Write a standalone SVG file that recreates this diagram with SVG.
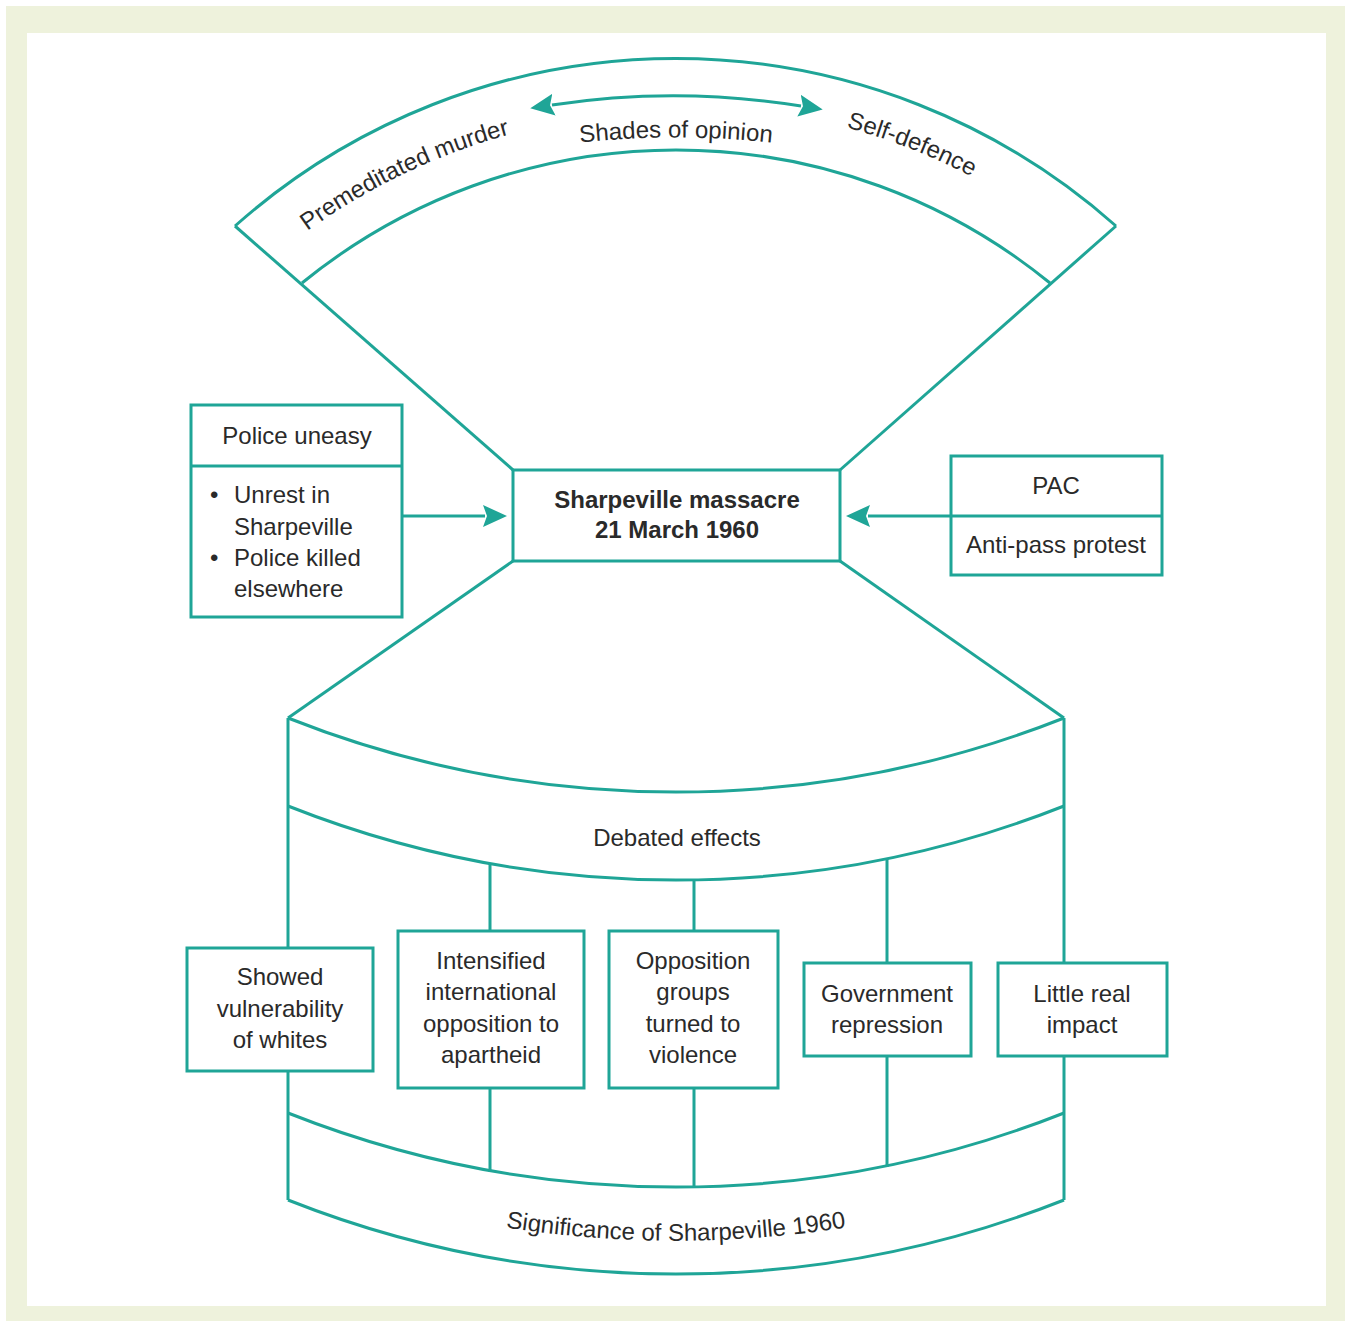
<svg xmlns="http://www.w3.org/2000/svg" width="1349" height="1321" viewBox="0 0 1349 1321">
  <style>
    .ln { fill: none; stroke: #1fa597; stroke-width: 3; stroke-linejoin: miter; }
    .box { fill: #ffffff; stroke: #1fa597; stroke-width: 3; }
    .t { font-family: "Liberation Sans", Arial, sans-serif; font-size: 24px; fill: #2a2a2a; }
    .c { text-anchor: middle; }
    .b { font-weight: bold; }
  </style>
  <defs>
    <marker id="head" viewBox="0 0 12 12" refX="1" refY="6" markerWidth="24" markerHeight="24" markerUnits="userSpaceOnUse" orient="auto-start-reverse">
      <path d="M0,0.5 L12,6 L0,11.5 L2,6 Z" fill="#1fa597"/>
    </marker>
    <!-- baselines for curved labels -->
    <path id="leftLabelArc" d="M193.4,337 A630,630 0 0 1 1158.6,337"/>
    <path id="topLabelArc" d="M187.3,331.9 A638,638 0 0 1 1164.7,331.9"/>
    <path id="shadesArc" d="M476,160 A900,900 0 0 1 876,160"/>
    <path id="sigArc" d="M376,1199 A1100,1100 0 0 0 976,1199"/>
  </defs>

  <!-- page frame -->
  <rect x="0" y="0" width="1349" height="1321" fill="#ffffff"/>
  <rect x="6" y="6" width="1339" height="1315" fill="#eef2dc"/>
  <rect x="27" y="33" width="1299" height="1273" fill="#ffffff"/>

  <!-- upper fan: shades of opinion -->
  <g id="opinion-fan">
    <path class="ln" d="M235,226 A663,663 0 0 1 1116,226"/>
    <path class="ln" d="M302,283 A592,592 0 0 1 1050,283"/>
    <text class="t"><textPath href="#leftLabelArc" startOffset="156">Premeditated murder</textPath></text>
    <text class="t"><textPath href="#topLabelArc" startOffset="729">Self-defence</textPath></text>
    <text class="t c"><textPath href="#shadesArc" startOffset="50%">Shades of opinion</textPath></text>
  </g>

  <!-- lower funnel: debated effects and significance -->
  <g id="significance-funnel">
    <path class="ln" d="M288,718 A1054,1054 0 0 0 1064,718"/>
    <path class="ln" d="M288,806 A1054,1054 0 0 0 1064,806"/>
    <path class="ln" d="M288,1113 A1054,1054 0 0 0 1064,1113"/>
    <path class="ln" d="M288,1200 A1054,1054 0 0 0 1064,1200"/>
    <text class="t c" x="677" y="846">Debated effects</text>
    <text class="t c"><textPath href="#sigArc" startOffset="50%">Significance of Sharpeville 1960</textPath></text>
  </g>

  <!-- connectors -->
  <g id="connectors">
    <!-- fan sides into the central event -->
    <path class="ln" d="M235,226 L513,470"/>
    <path class="ln" d="M1116,226 L840,470"/>
    <path class="ln" d="M513,561 L288,718"/>
    <path class="ln" d="M840,561 L1064,718"/>
    <!-- opinion range arrow -->
    <path class="ln" d="M552,105 Q676,86 801,106" marker-start="url(#head)" marker-end="url(#head)"/>
    <!-- causes -->
    <path class="ln" d="M402,516 L485,516" marker-end="url(#head)"/>
    <path class="ln" d="M951,516 L868,516" marker-end="url(#head)"/>
    <!-- funnel uprights -->
    <path class="ln" d="M288,718 L288,948 M288,1071 L288,1200"/>
    <path class="ln" d="M1064,718 L1064,963 M1064,1056 L1064,1200"/>
    <!-- effect links -->
    <path class="ln" d="M490,863 L490,931 M490,1088 L490,1172"/>
    <path class="ln" d="M694,880 L694,931 M694,1088 L694,1188"/>
    <path class="ln" d="M887,859 L887,963 M887,1056 L887,1167"/>
  </g>

  <g id="event">
    <rect class="box" x="513" y="470" width="327" height="91"/>
    <text class="t c b" x="677" y="508">Sharpeville massacre</text>
    <text class="t c b" x="677" y="538">21 March 1960</text>
  </g>

  <g id="police">
    <rect class="box" x="191" y="405" width="211" height="212"/>
    <path class="ln" d="M191,466 L402,466"/>
    <text class="t c" x="297" y="444">Police uneasy</text>
    <text class="t" x="210" y="503">•</text>
    <text class="t" x="234" y="503">Unrest in</text>
    <text class="t" x="234" y="535">Sharpeville</text>
    <text class="t" x="210" y="566">•</text>
    <text class="t" x="234" y="566">Police killed</text>
    <text class="t" x="234" y="597">elsewhere</text>
  </g>

  <g id="pac">
    <rect class="box" x="951" y="456" width="211" height="119"/>
    <path class="ln" d="M951,516 L1162,516"/>
    <text class="t c" x="1056" y="494">PAC</text>
    <text class="t c" x="1056" y="553">Anti-pass protest</text>
  </g>

  <g id="effect-whites">
    <rect class="box" x="187" y="948" width="186" height="123"/>
    <text class="t c" x="280" y="985">Showed</text>
    <text class="t c" x="280" y="1017">vulnerability</text>
    <text class="t c" x="280" y="1048">of whites</text>
  </g>

  <g id="effect-international">
    <rect class="box" x="398" y="931" width="186" height="157"/>
    <text class="t c" x="491" y="969">Intensified</text>
    <text class="t c" x="491" y="1000">international</text>
    <text class="t c" x="491" y="1032">opposition to</text>
    <text class="t c" x="491" y="1063">apartheid</text>
  </g>

  <g id="effect-violence">
    <rect class="box" x="609" y="931" width="169" height="157"/>
    <text class="t c" x="693" y="969">Opposition</text>
    <text class="t c" x="693" y="1000">groups</text>
    <text class="t c" x="693" y="1032">turned to</text>
    <text class="t c" x="693" y="1063">violence</text>
  </g>

  <g id="effect-repression">
    <rect class="box" x="804" y="963" width="167" height="93"/>
    <text class="t c" x="887" y="1002">Government</text>
    <text class="t c" x="887" y="1033">repression</text>
  </g>

  <g id="effect-little">
    <rect class="box" x="998" y="963" width="169" height="93"/>
    <text class="t c" x="1082" y="1002">Little real</text>
    <text class="t c" x="1082" y="1033">impact</text>
  </g>
</svg>
